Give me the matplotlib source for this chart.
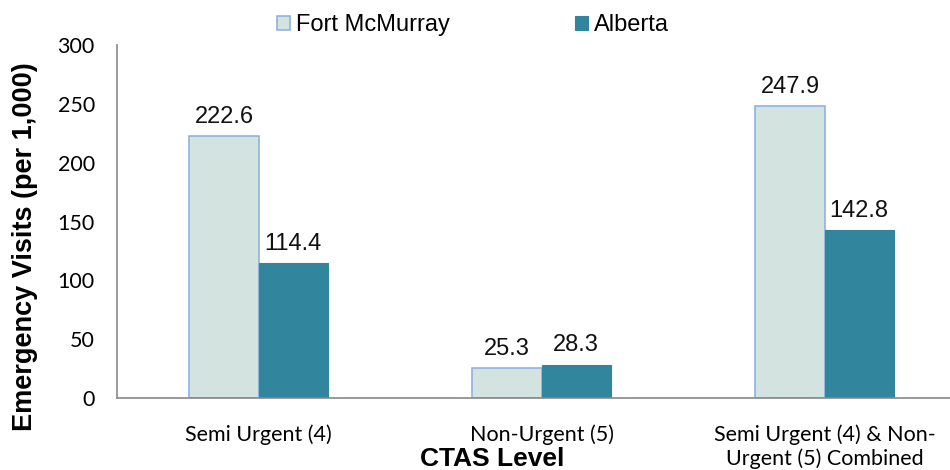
import matplotlib.pyplot as plt
import numpy as np

categories = ["Semi Urgent (4)", "Non-Urgent (5)", "Semi Urgent (4) & Non-\nUrgent (5) Combined"]
fort_mcmurray = [222.6, 25.3, 247.9]
alberta = [114.4, 28.3, 142.8]

W, H = 950, 470
fig = plt.figure(figsize=(W / 100, H / 100), dpi=100)
ax = fig.add_axes([117 / W, 1 - 398 / H, (W - 117) / W, (398 - 45) / H])

x = np.arange(len(categories))
bw = 0.244
b1 = ax.bar(x - bw / 2, fort_mcmurray, bw, color="#D3E3DF", edgecolor="#8EB4E3", linewidth=1.2,
            label="Fort McMurray", zorder=2)
b2 = ax.bar(x + bw / 2, alberta, bw, color="#31859C", edgecolor="#31859C", linewidth=0.8,
            label="Alberta", zorder=2)

for bars, vals in [(b1, fort_mcmurray), (b2, alberta)]:
    for r, v in zip(bars, vals):
        ax.text(r.get_x() + r.get_width() / 2, v + 7, f"{v:.1f}", ha="center", va="bottom",
                fontsize=17, family="Liberation Sans", color="#111111")

ax.set_xlim(-0.5, -0.5 + (W - 117) / 283)
ax.set_ylim(0, 300)
ax.set_yticks(range(0, 301, 50))
ax.tick_params(axis="y", length=0, pad=16, labelsize=15.5)
for lab in ax.get_yticklabels():
    lab.set_family("Lato")
ax.set_xticks(x)
ax.set_xticklabels(categories, fontsize=15.5, family="Lato", linespacing=1.2)
ax.tick_params(axis="x", length=0, pad=19)
for s in ["top", "right"]:
    ax.spines[s].set_visible(False)
for s in ["left", "bottom"]:
    ax.spines[s].set_color("#888888")
    ax.spines[s].set_linewidth(1.2)

fig.text(25 / W, 1 - 247 / H, "Emergency Visits (per 1,000)", fontsize=19.5, fontweight="bold",
         family="Liberation Sans", rotation=90, ha="center", va="center")
fig.text(492 / W, 1 - 459 / H, "CTAS Level", fontsize=19, fontweight="bold",
         family="Liberation Sans", ha="center", va="center")

leg = fig.legend(loc="center", bbox_to_anchor=(473 / W, 1 - 25 / H), ncol=2, frameon=False,
                 prop={"family": "Liberation Sans", "size": 17}, handlelength=0.55,
                 handleheight=0.55, columnspacing=5.3, handletextpad=0.25, borderpad=0)

fig.savefig("out.png", dpi=100)
